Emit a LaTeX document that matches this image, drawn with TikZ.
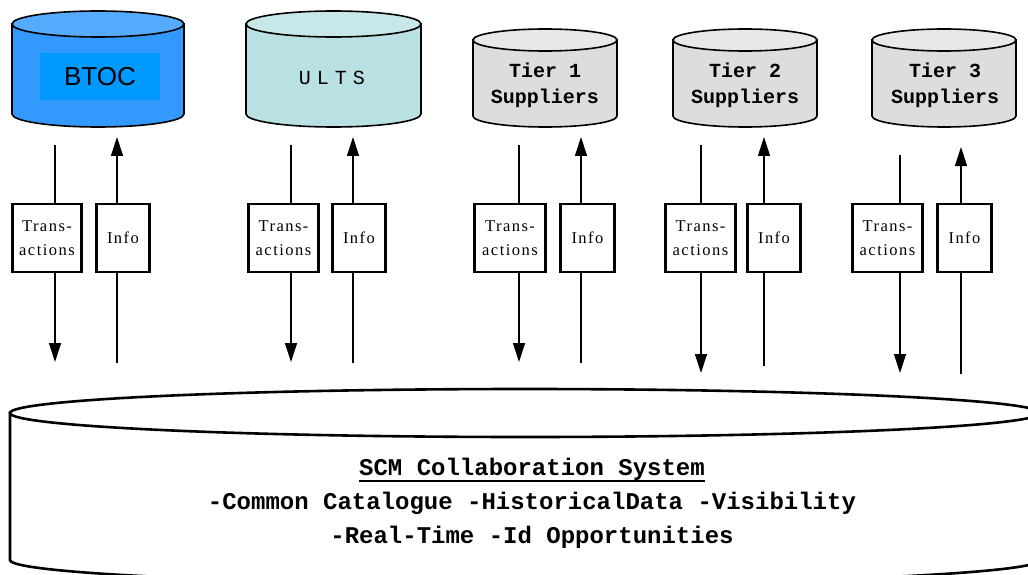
\documentclass[tikz,border=0pt]{standalone}
\usepackage{fontspec}
\setmainfont{Liberation Serif}
\newfontfamily\boxfont[LetterSpace=9]{Liberation Serif}
\newfontfamily\tierfont{Liberation Mono}
\newfontfamily\ultsfont[LetterSpace=30]{Liberation Mono}
\newfontfamily\btocfont{Liberation Sans}
\usetikzlibrary{positioning,arrows.meta}

\definecolor{btocbody}{HTML}{3399FF}
\definecolor{btoctop}{HTML}{57ABFF}
\definecolor{btocinner}{HTML}{0099FF}
\definecolor{ultsbody}{HTML}{B9E0E2}
\definecolor{ultstop}{HTML}{C8E7E8}
\definecolor{tierbody}{HTML}{DDDDDD}
\definecolor{tiertop}{HTML}{E8E8E8}

\newcommand{\thickunder}[1]{\leavevmode\setbox0\hbox{#1}\rlap{\rule[-7pt]{\wd0}{1.8pt}}\box0}

\tikzset{
  drumline/.style={draw=black, line width=1.6pt},
  flowbox/.style={draw=black, line width=2.8pt, fill=white, minimum height=68pt,
    inner sep=0pt, align=center, font=\boxfont\fontsize{16.5}{24}\selectfont},
  flow/.style={line width=1.2pt},
  flowtip/.style={flow, -{Triangle[length=19pt,width=12pt]}},
  tierlabel/.style={align=center, font=\tierfont\bfseries\fontsize{20}{26}\selectfont}
}

\begin{document}
\begin{tikzpicture}[x=1pt, y=-1pt]
\useasboundingbox (0,0) rectangle (1028,575);

\def\ya{145}
\def\yb{362}
\def\yc{373}
\def\ytip{137}
\def\ybox{238}

\filldraw[drumline, fill=btocbody] (12,24) -- (12,114)
  arc[start angle=180, end angle=0, x radius=86, y radius=13] -- (184,24) -- cycle;
\filldraw[drumline, fill=btoctop] (98,24) ellipse[x radius=86, y radius=13];
\node[fill=btocinner, minimum width=120pt, minimum height=47pt,
  font=\btocfont\fontsize{26}{26}\selectfont] (btoc) at (100,77) {BTOC};

\filldraw[drumline, fill=ultsbody] (246,24) -- (246,114)
  arc[start angle=180, end angle=0, x radius=87.5, y radius=13] -- (421,24) -- cycle;
\filldraw[drumline, fill=ultstop] (333.5,24) ellipse[x radius=87.5, y radius=13];
\node[font=\ultsfont\fontsize{20}{20}\selectfont] (ults) at (332,78) {ULTS};

\filldraw[drumline, fill=tierbody] (473,40) -- (473,116)
  arc[start angle=180, end angle=0, x radius=72, y radius=11] -- (617,40) -- cycle;
\filldraw[drumline, fill=tiertop] (545,40) ellipse[x radius=72, y radius=11];
\node[tierlabel] (tier1) at (545,85) {Tier 1\\Suppliers};

\filldraw[drumline, fill=tierbody] (673,40) -- (673,116)
  arc[start angle=180, end angle=0, x radius=72, y radius=11] -- (817,40) -- cycle;
\filldraw[drumline, fill=tiertop] (745,40) ellipse[x radius=72, y radius=11];
\node[tierlabel] (tier2) at (745,85) {Tier 2\\Suppliers};

\filldraw[drumline, fill=tierbody] (872,40) -- (872,116)
  arc[start angle=180, end angle=0, x radius=72, y radius=11] -- (1016,40) -- cycle;
\filldraw[drumline, fill=tiertop] (944,40) ellipse[x radius=72, y radius=11];
\node[tierlabel] (tier3) at (945,85) {Tier 3\\Suppliers};

\node[flowbox, minimum width=69pt] (btocT) at (47,\ybox) {Trans-\\actions};
\node[flowbox, minimum width=53pt] (btocI) at (123,\ybox) {Info};
\node[flowbox, minimum width=70pt] (ultsT) at (283.5,\ybox) {Trans-\\actions};
\node[flowbox, minimum width=53pt] (ultsI) at (359,\ybox) {Info};
\node[flowbox, minimum width=71pt] (tier1T) at (510,\ybox) {Trans-\\actions};
\node[flowbox, minimum width=54pt] (tier1I) at (587.5,\ybox) {Info};
\node[flowbox, minimum width=70pt] (tier2T) at (700.5,\ybox) {Trans-\\actions};
\node[flowbox, minimum width=53pt] (tier2I) at (774,\ybox) {Info};
\node[flowbox, minimum width=70pt] (tier3T) at (887.5,\ybox) {Trans-\\actions};
\node[flowbox, minimum width=54pt] (tier3I) at (964.5,\ybox) {Info};

\coordinate (btocTa) at (55,\ya);
\coordinate (btocTb) at (55,\yb);
\coordinate (btocIa) at (117,\ytip);
\coordinate (btocIb) at (117,363);
\coordinate (ultsTa) at (291,\ya);
\coordinate (ultsTb) at (291,\yb);
\coordinate (ultsIa) at (353,\ytip);
\coordinate (ultsIb) at (353,363);
\coordinate (tier1Ta) at (519,\ya);
\coordinate (tier1Tb) at (519,\yb);
\coordinate (tier1Ia) at (581,\ytip);
\coordinate (tier1Ib) at (581,363);
\coordinate (tier2Ta) at (701,\ya);
\coordinate (tier2Tb) at (701,\yc);
\coordinate (tier2Ia) at (764,\ytip);
\coordinate (tier2Ib) at (764,366);
\coordinate (tier3Ta) at (900,155);
\coordinate (tier3Tb) at (900,\yc);
\coordinate (tier3Ia) at (961,147);
\coordinate (tier3Ib) at (961,374);

\draw[flow] (btocTa) -- (btocTa |- btocT.north);
\draw[flowtip] (btocTa |- btocT.south) -- (btocTb);
\draw[flow] (btocIb) -- (btocIb |- btocI.south);
\draw[flowtip] (btocIb |- btocI.north) -- (btocIa);

\draw[flow] (ultsTa) -- (ultsTa |- ultsT.north);
\draw[flowtip] (ultsTa |- ultsT.south) -- (ultsTb);
\draw[flow] (ultsIb) -- (ultsIb |- ultsI.south);
\draw[flowtip] (ultsIb |- ultsI.north) -- (ultsIa);

\draw[flow] (tier1Ta) -- (tier1Ta |- tier1T.north);
\draw[flowtip] (tier1Ta |- tier1T.south) -- (tier1Tb);
\draw[flow] (tier1Ib) -- (tier1Ib |- tier1I.south);
\draw[flowtip] (tier1Ib |- tier1I.north) -- (tier1Ia);

\draw[flow] (tier2Ta) -- (tier2Ta |- tier2T.north);
\draw[flowtip] (tier2Ta |- tier2T.south) -- (tier2Tb);
\draw[flow] (tier2Ib) -- (tier2Ib |- tier2I.south);
\draw[flowtip] (tier2Ib |- tier2I.north) -- (tier2Ia);

\draw[flow] (tier3Ta) -- (tier3Ta |- tier3T.north);
\draw[flowtip] (tier3Ta |- tier3T.south) -- (tier3Tb);
\draw[flow] (tier3Ib) -- (tier3Ib |- tier3I.south);
\draw[flowtip] (tier3Ib |- tier3I.north) -- (tier3Ia);

\filldraw[line width=2.6pt, fill=white] (10,413) -- (10,560)
  arc[start angle=180, end angle=0, x radius=515, y radius=24] -- (1040,413) -- cycle;
\filldraw[line width=2.6pt, fill=white] (525,413) ellipse[x radius=515, y radius=24];
\node[align=center, font=\tierfont\bfseries\fontsize{24}{34}\selectfont] (scm) at (532,503)
  {\thickunder{SCM Collaboration System}\\
   -Common Catalogue -HistoricalData -Visibility\\
   -Real-Time -Id Opportunities};

\end{tikzpicture}
\end{document}
